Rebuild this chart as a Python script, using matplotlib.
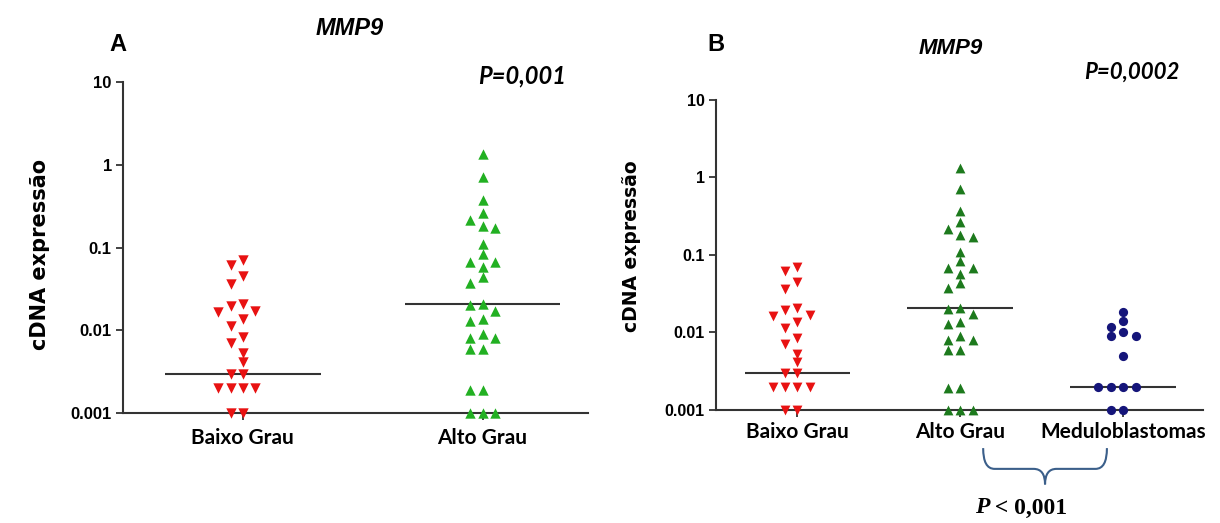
import matplotlib
matplotlib.use("Agg")
import matplotlib.pyplot as plt
import matplotlib.transforms as mtransforms
from matplotlib.path import Path
from matplotlib.patches import PathPatch
import numpy as np

# values (cDNA expression, log scale)
baixo_grau = [0.07, 0.062, 0.045, 0.036, 0.021, 0.017, 0.0195, 0.0165, 0.0137,
              0.0113, 0.0084, 0.007, 0.0053, 0.0041, 0.003, 0.003,
              0.002, 0.002, 0.002, 0.002, 0.001, 0.001]
alto_grau = [1.34, 0.705, 0.375, 0.264, 0.215, 0.183, 0.173, 0.110, 0.0834,
             0.0673, 0.0673, 0.0575, 0.0436, 0.0376, 0.0206, 0.0202, 0.0173,
             0.0136, 0.0129, 0.009, 0.008, 0.008, 0.0059, 0.0059,
             0.0019, 0.0019, 0.001, 0.001, 0.001]
meduloblastomas = [0.0186, 0.0142, 0.0119, 0.0100, 0.0091, 0.0091, 0.005,
                   0.002, 0.002, 0.002, 0.002, 0.001, 0.001]

# horizontal lines drawn on each group
linha_A = [0.003, 0.0206]
linha_B = [0.003, 0.0206, 0.002]

cats_A = ["Baixo Grau", "Alto Grau"]
cats_B = ["Baixo Grau", "Alto Grau", "Meduloblastomas"]
yticks = [0.001, 0.01, 0.1, 1, 10]
yticklabels = ["0.001", "0.01", "0.1", "1", "10"]

RED = "#e81212"
GREEN_A = "#22b022"
GREEN_B = "#1d7a1d"
NAVY = "#15157a"
AXC = "#333333"


def swarm(ax, values, slot_px, gap_px):
    # simple beeswarm: slot indices so markers don't pile up
    values = np.asarray(values, dtype=float)
    bb = ax.get_window_extent()
    lo, hi = ax.get_ylim()
    px_dec = bb.height / (np.log10(hi) - np.log10(lo))
    x0, x1 = ax.get_xlim()
    slot = slot_px / (bb.width / (x1 - x0))
    y = np.log10(values) * px_dec
    order = np.argsort(-values, kind="stable")
    placed = []
    out = np.zeros(len(values))
    for i in order:
        for c in [0, -1, 1, -2, 2, -3, 3, -4, 4]:
            if all(abs(y[i] - yy) >= gap_px for s, yy in placed if s == c):
                break
        placed.append((c, y[i]))
        out[i] = c * slot
    return out


def style_axes(ax, cats, xmax, tick_fs, lab_fs, pad):
    ax.set_yscale("log")
    ax.set_ylim(0.001, 10)
    ax.set_xlim(-0.5, xmax)
    ax.set_yticks(yticks, labels=yticklabels, fontsize=tick_fs,
                  fontweight="bold", fontfamily="Liberation Sans")
    ax.yaxis.set_minor_locator(matplotlib.ticker.NullLocator())
    ax.set_xticks(range(len(cats)), labels=cats, fontsize=lab_fs,
                  fontweight="bold", fontfamily="Lato")
    for s in ["top", "right"]:
        ax.spines[s].set_visible(False)
    for s in ["left", "bottom"]:
        ax.spines[s].set_linewidth(1.5)
        ax.spines[s].set_color(AXC)
    ax.tick_params(axis="y", length=5, width=1.3, color=AXC, pad=3,
                   labelsize=tick_fs)
    ax.tick_params(axis="x", length=5, width=1.3, color=AXC, pad=pad,
                   labelsize=lab_fs)


fig = plt.figure(figsize=(12.2, 5.23), dpi=100)
axA = fig.add_axes([0.1008, 0.2103, 0.3812, 0.6329])
axB = fig.add_axes([0.5869, 0.2161, 0.3992, 0.5927])

style_axes(axA, cats_A, 1.44, 12, 15, 6)
style_axes(axB, cats_B, 2.49, 11.5, 15, 4)

# panel A
groups_A = [(baixo_grau, "v", RED), (alto_grau, "^", GREEN_A)]
for i, (vals, mk, col) in enumerate(groups_A):
    off = swarm(axA, vals, 12.3, 9)
    axA.scatter(i + off, vals, marker=mk, s=56, color=col, linewidths=0,
                zorder=3, clip_on=False)
    axA.hlines(linha_A[i], i - 0.325, i + 0.325, color=AXC, lw=1.5, zorder=2)

# panel B
groups_B = [(baixo_grau, "v", RED), (alto_grau, "^", GREEN_B),
            (meduloblastomas, "o", NAVY)]
for i, (vals, mk, col) in enumerate(groups_B):
    off = swarm(axB, vals, 12.4, 8.5)
    sz = 50 if mk != "o" else 44
    axB.scatter(i + off, vals, marker=mk, s=sz, color=col, linewidths=0,
                zorder=3, clip_on=False)
    axB.hlines(linha_B[i], i - 0.325, i + 0.325, color=AXC, lw=1.5, zorder=2)

# titles and labels
fig.text(0.0967, 0.914, "A", ha="center", va="center", fontsize=17,
         fontweight="bold", family="Liberation Sans")
fig.text(0.287, 0.946, "MMP9", ha="center", va="center", fontsize=17,
         fontweight="bold", style="italic", family="Liberation Sans")
fig.text(0.428, 0.855, "P=0,001", ha="center", va="center", fontsize=17,
         fontweight="bold", style="italic", family="Lato")
fig.text(0.587, 0.914, "B", ha="center", va="center", fontsize=17,
         fontweight="bold", family="Liberation Sans")
fig.text(0.779, 0.908, "MMP9", ha="center", va="center", fontsize=16,
         fontweight="bold", style="italic", family="Liberation Sans")
fig.text(0.928, 0.862, "P=0,0002", ha="center", va="center", fontsize=16,
         fontweight="bold", style="italic", family="Lato")
fig.text(0.0328, 0.514, "cDNA expressão", rotation=90, ha="center",
         va="center", fontsize=15, fontweight="bold", family="DejaVu Sans")
fig.text(0.518, 0.530, "cDNA expressão", rotation=90, ha="center",
         va="center", fontsize=13.5, fontweight="bold", family="DejaVu Sans")

# brace between Alto Grau and Meduloblastomas
trans = mtransforms.blended_transform_factory(axB.transData, axB.transAxes)
xl, xc, xr = 1.14, 1.52, 1.90
yt, ym, yp = -0.123, -0.19, -0.24
d = 0.07
verts = [(xl, yt), (xl, ym), (xl + d, ym), (xc - d, ym), (xc, ym), (xc, yp),
         (xc, ym), (xc + d, ym), (xr - d, ym), (xr, ym), (xr, yt)]
codes = [Path.MOVETO, Path.CURVE3, Path.CURVE3, Path.LINETO, Path.CURVE3,
         Path.CURVE3, Path.CURVE3, Path.CURVE3, Path.LINETO, Path.CURVE3,
         Path.CURVE3]
brace = PathPatch(Path(verts, codes), transform=trans, fill=False,
                  edgecolor="#3b5f8a", lw=1.5, clip_on=False)
axB.add_patch(brace)

tP = fig.text(0.799, 0.0287, "P", ha="left", va="center", fontsize=17,
              fontweight="bold", style="italic", family="Liberation Serif")
axB.annotate(" < 0,001", xy=(1, 0), xycoords=tP, ha="left", va="bottom",
             fontsize=17, fontweight="bold", family="Liberation Serif",
             annotation_clip=False)

fig.savefig("out.png", dpi=100, facecolor="white")
